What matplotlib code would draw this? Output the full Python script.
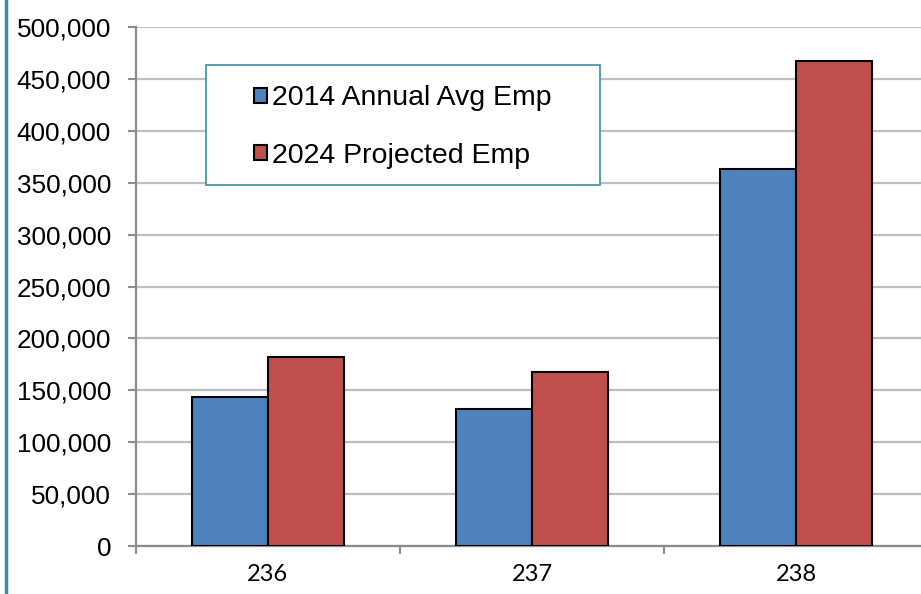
import matplotlib
matplotlib.use("Agg")
import matplotlib.pyplot as plt
from matplotlib.patches import Rectangle
from matplotlib.lines import Line2D
from matplotlib.ticker import FuncFormatter
import numpy as np

# data
categorias = ["236", "237", "238"]
emp_2014 = [143500, 132000, 363000]
emp_2024 = [182000, 167500, 467000]
series_nomes = ["2014 Annual Avg Emp", "2024 Projected Emp"]

AZUL = "#4f81bd"
VERMELHO = "#c0504d"
TEAL = "#3b8fa3"
GRADE = "#bfbfbf"
EIXO = "#8c8c8c"

plt.rcParams["font.family"] = ["Liberation Sans", "DejaVu Sans"]

fig = plt.figure(figsize=(9.21, 5.94), dpi=100)
ax = fig.add_axes([136 / 921, 48 / 594, 792 / 921, 519 / 594])

x = np.arange(len(categorias))
larg = 0.288
ax.bar(x - larg / 2, emp_2014, larg, color=AZUL, edgecolor="black", linewidth=1.5,
       label=series_nomes[0], zorder=3)
ax.bar(x + larg / 2, emp_2024, larg, color=VERMELHO, edgecolor="black", linewidth=1.5,
       label=series_nomes[1], zorder=3)

ax.set_xlim(-0.5, 2.5)
ax.set_ylim(0, 500000)
ax.set_yticks(np.arange(0, 500001, 50000))
ax.yaxis.set_major_formatter(FuncFormatter(lambda v, p: f"{int(v):,}"))
ax.yaxis.grid(True, color=GRADE, linewidth=1.6, zorder=0)
ax.set_axisbelow(True)

ax.set_xticks(x)
ax.set_xticklabels(categorias, fontfamily="Lato", fontsize=17)
ax.set_xticks(np.arange(-0.5, 2.6, 1.0), minor=True)
ax.tick_params(axis="x", which="major", length=0, pad=13)
ax.tick_params(axis="x", which="minor", length=6, width=1.5, color=EIXO, direction="out")
ax.tick_params(axis="y", length=6, width=1.5, color=EIXO, pad=12, labelsize=18.8)

for lado in ["top", "right"]:
    ax.spines[lado].set_visible(False)
for lado in ["left", "bottom"]:
    ax.spines[lado].set_color(EIXO)
    ax.spines[lado].set_linewidth(1.6)

# legend box
caixa = Rectangle((70 / 792, (546 - 185) / 519), 394 / 792, 120 / 519,
                  transform=ax.transAxes, facecolor="white", edgecolor=TEAL,
                  linewidth=1.2, zorder=4)
ax.add_patch(caixa)
leg = ax.legend(loc="center", bbox_to_anchor=((403 - 136) / 792, (546 - 127) / 519),
                frameon=False, fontsize=20.5, handlelength=0.45, handleheight=0.45,
                handletextpad=0.2, labelspacing=1.1)
leg.set_zorder(5)

# teal line at the left edge
fig.add_artist(Line2D([5.5 / 921, 5.5 / 921], [0, 1], transform=fig.transFigure,
                      color=TEAL, linewidth=2.5))

fig.savefig("out.png", dpi=100)
